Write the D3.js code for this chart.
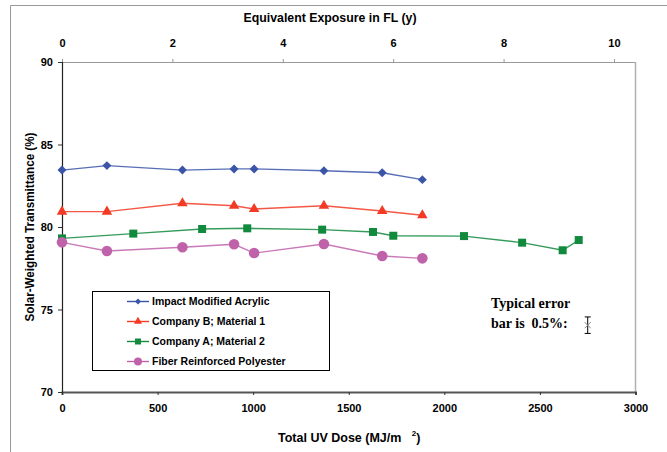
<!DOCTYPE html>
<html><head><meta charset="utf-8">
<script src="https://cdn.jsdelivr.net/npm/d3@7"></script>
<style>body{margin:0;background:#fff}svg{display:block}</style>
</head><body><svg id="c" width="667" height="452" font-family='"Liberation Sans",Arial,sans-serif'></svg>
<script>
// ---- data ----
const doseShared = [0, 235, 630, 900, 1005, 1370, 1675, 1885];
const acrylic    = [83.45, 83.72, 83.45, 83.52, 83.52, 83.41, 83.29, 82.87];
const companyB   = [80.93, 80.93, 81.44, 81.29, 81.09, 81.29, 80.97, 80.71];
const fiber      = [79.07, 78.55, 78.77, 78.95, 78.42, 78.97, 78.24, 78.10];
const doseA      = [0, 373, 733, 969, 1361, 1627, 1733, 2103, 2407, 2619, 2703];
const companyA   = [79.31, 79.60, 79.88, 79.92, 79.84, 79.70, 79.47, 79.45, 79.05, 78.59, 79.21];
const seriesNames = ["Impact Modified Acrylic", "Company B; Material 1", "Company A; Material 2", "Fiber Reinforced Polyester"];
const xTicks = [0, 500, 1000, 1500, 2000, 2500, 3000];
const yTicks = [70, 75, 80, 85, 90];
const topTicks = [0, 2, 4, 6, 8, 10];
const errorBar = {dose: 2750, value: 74.05, err: 0.5};

const svg = d3.select("#c");
const sans = '"Liberation Sans",Arial,sans-serif';
const L = 62, R = 635.5, T = 62, B = 392;
const x = d3.scaleLinear([0, 3000], [L, R]);
const y = d3.scaleLinear([70, 90], [B, T]);
const xTop = d3.scaleLinear([0, 10.39], [L, R]);

// outer border
svg.append("path").attr("d", `M10.5,452V5.5H667`).attr("fill", "none").attr("stroke", "#999").attr("stroke-width", 1);

// frame top/right
svg.append("line").attr("x1", L).attr("x2", R).attr("y1", T + 0.5).attr("y2", T + 0.5).attr("stroke", "#999");
svg.append("line").attr("x1", R).attr("x2", R).attr("y1", T).attr("y2", B).attr("stroke", "#b0b0b0").attr("stroke-width", 1.5);

// axes
const fontTick = g => g.selectAll("text").attr("font-size", 11).attr("font-weight", "bold").attr("fill", "#000").attr("font-family", sans);
const gx = svg.append("g").attr("transform", `translate(0,${B})`)
  .call(d3.axisBottom(x).tickValues(xTicks).tickFormat(d3.format("d")).tickSize(3).tickPadding(9));
gx.select(".domain").attr("stroke", "#555").attr("stroke-width", 2);
gx.selectAll(".tick line").attr("stroke", "#333");
fontTick(gx);

const gy = svg.append("g").attr("transform", `translate(${L},0)`)
  .call(d3.axisLeft(y).tickValues(yTicks).tickFormat(d3.format("d")).tickSize(4).tickPadding(5));
gy.select(".domain").attr("stroke", "#222").attr("stroke-width", 1.2);
gy.selectAll(".tick line").attr("stroke", "#333");
fontTick(gy);

const gt = svg.append("g").attr("transform", `translate(0,${T})`)
  .call(d3.axisTop(xTop).tickValues(topTicks).tickFormat(d3.format("d")).tickSize(3).tickPadding(12));
gt.select(".domain").remove();
gt.selectAll(".tick line").attr("stroke", "#999");
fontTick(gt);

// titles
svg.append("text").attr("x", 330).attr("y", 22).attr("text-anchor", "middle")
  .attr("font-size", 12.5).attr("font-weight", "bold").attr("textLength", 173).attr("lengthAdjust", "spacingAndGlyphs")
  .text("Equivalent Exposure in FL (y)");
const bt = svg.append("text").attr("x", 278).attr("y", 442)
  .attr("font-size", 12.5).attr("font-weight", "bold").style("white-space", "pre");
bt.append("tspan").text("Total UV Dose (MJ/m   ");
bt.append("tspan").attr("font-size", 8).attr("dy", -6).text("2");
bt.append("tspan").attr("dy", 6).text(")");
svg.append("text").attr("transform", "translate(34,227) rotate(-90)").attr("text-anchor", "middle")
  .attr("font-size", 12.5).attr("font-weight", "bold").attr("textLength", 189).attr("lengthAdjust", "spacingAndGlyphs")
  .text("Solar-Weighted Transmittance (%)");

// series
const series = [
  {name: seriesNames[0], xs: doseShared, ys: acrylic, color: "#3a55a8", sym: "diamond"},
  {name: seriesNames[1], xs: doseShared, ys: companyB, color: "#f23a24", sym: "triangle"},
  {name: seriesNames[2], xs: doseA, ys: companyA, color: "#128a3e", sym: "square"},
  {name: seriesNames[3], xs: doseShared, ys: fiber, color: "#c062aa", sym: "circle"}
];
const symPath = (sym, big) => {
  if (sym === "diamond") return d3.symbol(d3.symbolSquare, big ? 40 : 18)();
  if (sym === "triangle") return d3.symbol(d3.symbolTriangle, big ? 48 : 28)();
  if (sym === "square") return d3.symbol(d3.symbolSquare, big ? 64 : 36)();
  return d3.symbol(d3.symbolCircle, big ? 88 : 50)();
};
const line = d3.line().x(d => x(d[0])).y(d => y(d[1]));
series.forEach(s => {
  const pts = s.xs.map((d, i) => [d, s.ys[i]]);
  svg.append("path").attr("d", line(pts)).attr("fill", "none").attr("stroke", s.color).attr("stroke-opacity", 0.85).attr("stroke-width", 1.4);
  svg.append("g").selectAll("path").data(pts).join("path")
    .attr("d", symPath(s.sym, true))
    .attr("transform", d => `translate(${x(d[0])},${y(d[1])})` + (s.sym === "diamond" ? " rotate(45)" : ""))
    .attr("fill", s.color);
});

// legend
const lg = svg.append("g");
lg.append("rect").attr("x", 92.5).attr("y", 291.5).attr("width", 237).attr("height", 79).attr("fill", "#fff").attr("stroke", "#000");
const rowsY = [301.5, 321.5, 341.5, 361.5];
series.forEach((s, i) => {
  const yy = rowsY[i];
  lg.append("line").attr("x1", 127).attr("x2", 149).attr("y1", yy).attr("y2", yy).attr("stroke", s.color).attr("stroke-width", 1.4);
  lg.append("path").attr("d", symPath(s.sym, false)).attr("fill", s.color)
    .attr("transform", `translate(138,${yy})` + (s.sym === "diamond" ? " rotate(45)" : ""));
  lg.append("text").attr("x", 152).attr("y", yy + 3.8).attr("font-size", 10.5).attr("font-weight", "bold").text(s.name);
});

// typical error bar annotation
const serif = '"Liberation Serif","Times New Roman",serif';
svg.append("text").attr("x", 491).attr("y", 308).style("font-family", serif).attr("font-size", 14).attr("font-weight", "bold").text("Typical error");
svg.append("text").attr("x", 491).attr("y", 328).style("font-family", serif).attr("font-size", 14).attr("font-weight", "bold").style("white-space", "pre").text("bar is  0.5%:");
const ex = x(errorBar.dose), ey = y(errorBar.value), e1 = y(errorBar.value + errorBar.err), e2 = y(errorBar.value - errorBar.err);
svg.append("path").attr("d", `M${ex},${e1}V${e2}M${ex - 3},${e1}H${ex + 3}M${ex - 3},${e2}H${ex + 3}`).attr("stroke", "#000").attr("stroke-width", 1);
svg.append("path").attr("d", `M${ex - 3},${ey - 3}L${ex + 3},${ey + 3}M${ex - 3},${ey + 3}L${ex + 3},${ey - 3}`).attr("stroke", "#888").attr("stroke-width", 1);
</script></body></html>
